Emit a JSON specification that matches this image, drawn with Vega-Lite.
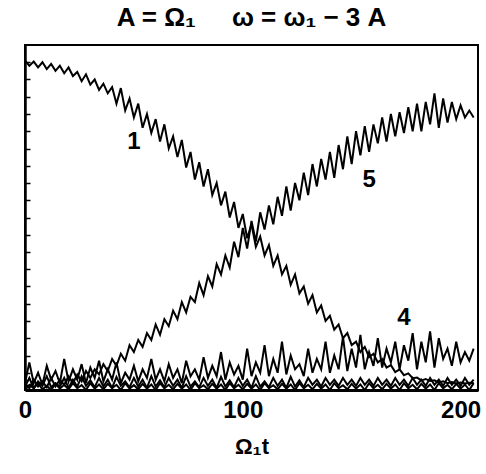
{
  "$schema": "https://vega.github.io/schema/vega-lite/v6.json",
  "autosize": "none",
  "width": 453,
  "height": 345,
  "padding": {"left": 25, "top": 45, "right": 8, "bottom": 84},
  "background": "white",
  "config": {
    "view": {"stroke": "black", "strokeWidth": 2},
    "font": "Liberation Sans"
  },
  "title": {
    "text": "A = Ω₁\u00a0\u00a0\u00a0\u00a0\u00a0ω = ω₁ − 3\u00a0A",
    "fontSize": 26,
    "fontWeight": "bold",
    "font": "Liberation Sans",
    "color": "black",
    "offset": 14
  },
  "datasets": {
    "curves": [
      {"t":0,"a":0.955,"b":0.01,"c":0.0,"d":0.02,"e":0.02},
      {"t":2,"a":0.94,"b":0.035,"c":0.015,"d":0.08,"e":0.005},
      {"t":4,"a":0.952,"b":0.005,"c":0.005,"d":0.02,"e":0.03},
      {"t":6,"a":0.935,"b":0.025,"c":0.02,"d":0.05,"e":0.01},
      {"t":8,"a":0.95,"b":0.012,"c":0.002,"d":0.015,"e":0.025},
      {"t":10,"a":0.93,"b":0.04,"c":0.012,"d":0.07,"e":0.008},
      {"t":12,"a":0.945,"b":0.008,"c":0.0,"d":0.03,"e":0.035},
      {"t":14,"a":0.925,"b":0.02,"c":0.018,"d":0.055,"e":0.01},
      {"t":16,"a":0.94,"b":0.01,"c":0.004,"d":0.02,"e":0.03},
      {"t":18,"a":0.918,"b":0.035,"c":0.015,"d":0.09,"e":0.015},
      {"t":20,"a":0.935,"b":0.006,"c":0.002,"d":0.025,"e":0.04},
      {"t":22,"a":0.91,"b":0.03,"c":0.02,"d":0.06,"e":0.02},
      {"t":24,"a":0.922,"b":0.01,"c":0.005,"d":0.03,"e":0.045},
      {"t":26,"a":0.895,"b":0.04,"c":0.014,"d":0.075,"e":0.025},
      {"t":28,"a":0.915,"b":0.012,"c":0.0,"d":0.02,"e":0.055},
      {"t":30,"a":0.885,"b":0.028,"c":0.02,"d":0.065,"e":0.035},
      {"t":32,"a":0.9,"b":0.008,"c":0.004,"d":0.035,"e":0.06},
      {"t":34,"a":0.87,"b":0.035,"c":0.016,"d":0.085,"e":0.045},
      {"t":36,"a":0.888,"b":0.01,"c":0.002,"d":0.025,"e":0.075},
      {"t":38,"a":0.86,"b":0.03,"c":0.018,"d":0.06,"e":0.055},
      {"t":40,"a":0.878,"b":0.006,"c":0.005,"d":0.03,"e":0.09},
      {"t":42,"a":0.83,"b":0.038,"c":0.015,"d":0.08,"e":0.07},
      {"t":44,"a":0.875,"b":0.012,"c":0.0,"d":0.02,"e":0.105},
      {"t":46,"a":0.81,"b":0.025,"c":0.02,"d":0.05,"e":0.085},
      {"t":48,"a":0.845,"b":0.008,"c":0.004,"d":0.03,"e":0.13},
      {"t":50,"a":0.79,"b":0.035,"c":0.014,"d":0.07,"e":0.11},
      {"t":52,"a":0.83,"b":0.01,"c":0.002,"d":0.025,"e":0.145},
      {"t":54,"a":0.76,"b":0.03,"c":0.018,"d":0.06,"e":0.125},
      {"t":56,"a":0.8,"b":0.006,"c":0.004,"d":0.035,"e":0.165},
      {"t":58,"a":0.745,"b":0.04,"c":0.016,"d":0.09,"e":0.145},
      {"t":60,"a":0.785,"b":0.01,"c":0.0,"d":0.03,"e":0.19},
      {"t":62,"a":0.72,"b":0.028,"c":0.02,"d":0.06,"e":0.16},
      {"t":64,"a":0.77,"b":0.008,"c":0.005,"d":0.025,"e":0.205},
      {"t":66,"a":0.7,"b":0.035,"c":0.015,"d":0.075,"e":0.185},
      {"t":68,"a":0.735,"b":0.012,"c":0.002,"d":0.035,"e":0.23},
      {"t":70,"a":0.675,"b":0.03,"c":0.018,"d":0.06,"e":0.205},
      {"t":72,"a":0.725,"b":0.006,"c":0.004,"d":0.02,"e":0.255},
      {"t":74,"a":0.645,"b":0.04,"c":0.016,"d":0.085,"e":0.225},
      {"t":76,"a":0.69,"b":0.01,"c":0.0,"d":0.04,"e":0.27},
      {"t":78,"a":0.61,"b":0.025,"c":0.02,"d":0.06,"e":0.255},
      {"t":80,"a":0.66,"b":0.008,"c":0.005,"d":0.03,"e":0.31},
      {"t":82,"a":0.59,"b":0.035,"c":0.014,"d":0.095,"e":0.275},
      {"t":84,"a":0.64,"b":0.012,"c":0.002,"d":0.035,"e":0.33},
      {"t":86,"a":0.565,"b":0.03,"c":0.018,"d":0.07,"e":0.3},
      {"t":88,"a":0.6,"b":0.006,"c":0.004,"d":0.04,"e":0.365},
      {"t":90,"a":0.535,"b":0.038,"c":0.016,"d":0.11,"e":0.335},
      {"t":92,"a":0.575,"b":0.01,"c":0.0,"d":0.03,"e":0.39},
      {"t":94,"a":0.5,"b":0.028,"c":0.02,"d":0.08,"e":0.355},
      {"t":96,"a":0.545,"b":0.008,"c":0.005,"d":0.045,"e":0.43},
      {"t":98,"a":0.47,"b":0.035,"c":0.015,"d":0.07,"e":0.385},
      {"t":100,"a":0.51,"b":0.012,"c":0.002,"d":0.03,"e":0.47},
      {"t":102,"a":0.44,"b":0.03,"c":0.018,"d":0.12,"e":0.41},
      {"t":104,"a":0.48,"b":0.006,"c":0.004,"d":0.04,"e":0.49},
      {"t":106,"a":0.415,"b":0.04,"c":0.016,"d":0.08,"e":0.43},
      {"t":108,"a":0.445,"b":0.01,"c":0.0,"d":0.05,"e":0.515},
      {"t":110,"a":0.39,"b":0.025,"c":0.02,"d":0.13,"e":0.465},
      {"t":112,"a":0.42,"b":0.008,"c":0.005,"d":0.04,"e":0.535},
      {"t":114,"a":0.36,"b":0.035,"c":0.014,"d":0.09,"e":0.48},
      {"t":116,"a":0.39,"b":0.012,"c":0.002,"d":0.05,"e":0.56},
      {"t":118,"a":0.335,"b":0.03,"c":0.018,"d":0.14,"e":0.505},
      {"t":120,"a":0.36,"b":0.006,"c":0.004,"d":0.045,"e":0.59},
      {"t":122,"a":0.305,"b":0.038,"c":0.016,"d":0.1,"e":0.52},
      {"t":124,"a":0.335,"b":0.01,"c":0.0,"d":0.06,"e":0.6},
      {"t":126,"a":0.28,"b":0.028,"c":0.02,"d":0.075,"e":0.55},
      {"t":128,"a":0.3,"b":0.008,"c":0.005,"d":0.04,"e":0.63},
      {"t":130,"a":0.25,"b":0.035,"c":0.015,"d":0.12,"e":0.565},
      {"t":132,"a":0.275,"b":0.015,"c":0.002,"d":0.05,"e":0.655},
      {"t":134,"a":0.225,"b":0.03,"c":0.018,"d":0.09,"e":0.59},
      {"t":136,"a":0.245,"b":0.01,"c":0.004,"d":0.06,"e":0.67},
      {"t":138,"a":0.2,"b":0.035,"c":0.016,"d":0.14,"e":0.61},
      {"t":140,"a":0.215,"b":0.015,"c":0.0,"d":0.05,"e":0.69},
      {"t":142,"a":0.175,"b":0.03,"c":0.02,"d":0.1,"e":0.615},
      {"t":144,"a":0.19,"b":0.012,"c":0.005,"d":0.06,"e":0.71},
      {"t":146,"a":0.15,"b":0.035,"c":0.014,"d":0.155,"e":0.64},
      {"t":148,"a":0.165,"b":0.015,"c":0.002,"d":0.055,"e":0.735},
      {"t":150,"a":0.13,"b":0.03,"c":0.018,"d":0.12,"e":0.655},
      {"t":152,"a":0.14,"b":0.012,"c":0.004,"d":0.065,"e":0.75},
      {"t":154,"a":0.11,"b":0.035,"c":0.016,"d":0.16,"e":0.68},
      {"t":156,"a":0.125,"b":0.015,"c":0.0,"d":0.06,"e":0.765},
      {"t":158,"a":0.095,"b":0.03,"c":0.02,"d":0.11,"e":0.69},
      {"t":160,"a":0.105,"b":0.012,"c":0.005,"d":0.07,"e":0.77},
      {"t":162,"a":0.08,"b":0.035,"c":0.015,"d":0.15,"e":0.715},
      {"t":164,"a":0.09,"b":0.015,"c":0.002,"d":0.065,"e":0.79},
      {"t":166,"a":0.065,"b":0.03,"c":0.018,"d":0.12,"e":0.72},
      {"t":168,"a":0.072,"b":0.012,"c":0.004,"d":0.08,"e":0.8},
      {"t":170,"a":0.052,"b":0.035,"c":0.016,"d":0.14,"e":0.735},
      {"t":172,"a":0.06,"b":0.015,"c":0.0,"d":0.06,"e":0.805},
      {"t":174,"a":0.043,"b":0.03,"c":0.02,"d":0.13,"e":0.745},
      {"t":176,"a":0.048,"b":0.012,"c":0.005,"d":0.085,"e":0.82},
      {"t":178,"a":0.034,"b":0.035,"c":0.015,"d":0.165,"e":0.75},
      {"t":180,"a":0.036,"b":0.015,"c":0.002,"d":0.06,"e":0.83},
      {"t":182,"a":0.028,"b":0.03,"c":0.018,"d":0.14,"e":0.75},
      {"t":184,"a":0.032,"b":0.012,"c":0.004,"d":0.08,"e":0.835},
      {"t":186,"a":0.026,"b":0.035,"c":0.016,"d":0.17,"e":0.77},
      {"t":188,"a":0.028,"b":0.015,"c":0.0,"d":0.065,"e":0.86},
      {"t":190,"a":0.022,"b":0.03,"c":0.02,"d":0.15,"e":0.76},
      {"t":192,"a":0.025,"b":0.012,"c":0.005,"d":0.09,"e":0.845},
      {"t":194,"a":0.02,"b":0.035,"c":0.015,"d":0.12,"e":0.775},
      {"t":196,"a":0.023,"b":0.015,"c":0.002,"d":0.07,"e":0.835},
      {"t":198,"a":0.019,"b":0.03,"c":0.018,"d":0.14,"e":0.785},
      {"t":200,"a":0.022,"b":0.012,"c":0.004,"d":0.08,"e":0.825},
      {"t":202,"a":0.019,"b":0.035,"c":0.016,"d":0.11,"e":0.79},
      {"t":204,"a":0.021,"b":0.015,"c":0.0,"d":0.085,"e":0.81},
      {"t":206,"a":0.02,"b":0.03,"c":0.02,"d":0.12,"e":0.79}
    ],
    "labels": [
      {"t":50,"v":0.72,"label":"1"},
      {"t":158,"v":0.61,"label":"5"},
      {"t":174,"v":0.21,"label":"4"}
    ]
  },
  "encoding": {
    "x": {
      "field": "t", "type": "quantitative",
      "scale": {"domain": [0, 208], "nice": false, "zero": false},
      "axis": {
        "values": [0, 100, 200],
        "title": "Ω₁t",
        "titleFont": "Liberation Sans",
        "titleFontSize": 22,
        "titleFontWeight": "bold",
        "titleColor": "black",
        "titlePadding": 14,
        "labelFont": "Liberation Sans",
        "labelFontSize": 24,
        "labelFontWeight": "bold",
        "labelColor": "black",
        "labelPadding": 8,
        "labelFlush": false,
        "ticks": false,
        "grid": false,
        "domainColor": "black",
        "domainWidth": 3
      }
    },
    "y": {
      "field": "v", "type": "quantitative",
      "scale": {"domain": [0, 1], "nice": false},
      "axis": {
        "values": [0.05,0.1,0.15,0.2,0.25,0.3,0.35,0.4,0.45,0.5,0.55,0.6,0.65,0.7,0.75,0.8,0.85,0.9,0.95],
        "labels": false,
        "title": null,
        "grid": false,
        "tickSize": -5,
        "tickColor": "black",
        "tickWidth": 1.5,
        "domainColor": "black",
        "domainWidth": 2.5
      }
    }
  },
  "layer": [
    {
      "data": {"name": "curves"},
      "transform": [{"fold": ["a","b","c","d","e"], "as": ["curve","v"]}],
      "mark": {"type": "line", "color": "black", "strokeWidth": 2, "clip": true},
      "encoding": {
        "detail": {"field": "curve", "type": "nominal"}
      }
    },
    {
      "data": {"name": "labels"},
      "mark": {"type": "text", "font": "Liberation Sans", "fontSize": 24, "fontWeight": "bold", "color": "black"},
      "encoding": {
        "text": {"field": "label"}
      }
    }
  ]
}
